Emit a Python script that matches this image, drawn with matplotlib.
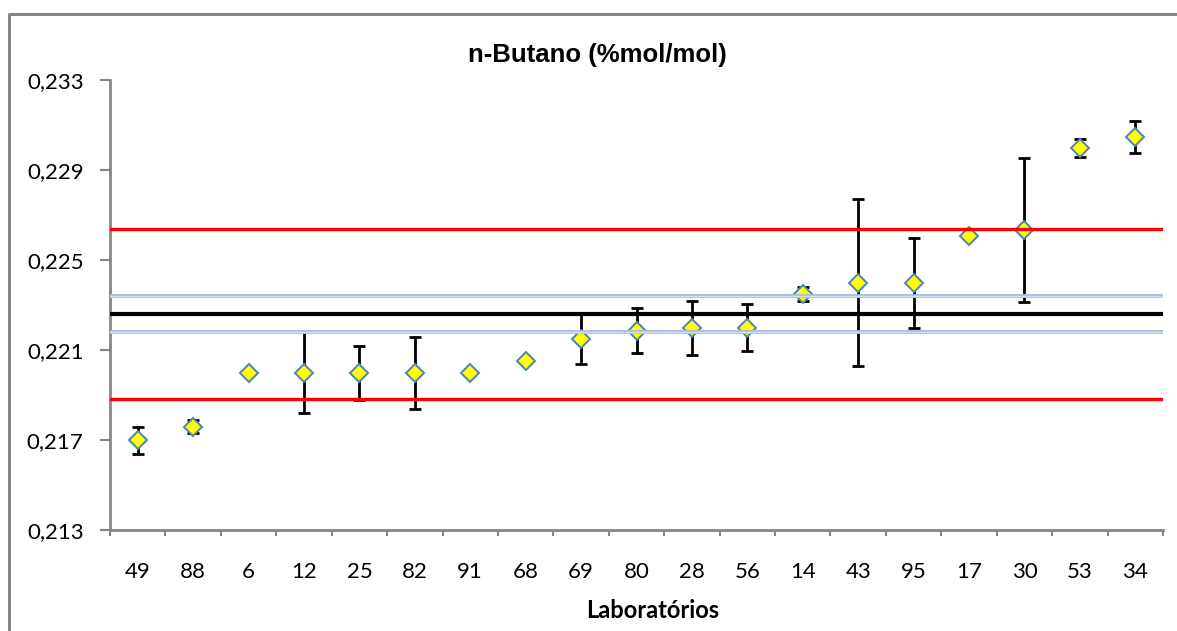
import numpy as np
import matplotlib.pyplot as plt
from matplotlib.lines import Line2D

labs = ['49', '88', '6', '12', '25', '82', '91', '68', '69', '80',
        '28', '56', '14', '43', '95', '17', '30', '53', '34']
valores = [0.2170, 0.21759, 0.2200, 0.2200, 0.2200, 0.2200, 0.2200, 0.2205, 0.2215, 0.22185,
           0.2220, 0.2220, 0.2235, 0.2240, 0.2240, 0.22607, 0.22633, 0.22996, 0.23047]
incertezas = [0.0006, 0.0003, 0.0, 0.0018, 0.0012, 0.0016, 0.0, 0.0, 0.0011, 0.0010,
              0.0012, 0.00105, 0.0003, 0.0037, 0.0020, 0.0001, 0.0032, 0.0004, 0.0007]

valor_ref = 0.2226
inc_ref = 0.0008
limite = 0.00377

fig = plt.figure(figsize=(11.77, 6.31), dpi=100)
# moldura do grafico (so topo e esquerda ficam visiveis)
fig.lines.append(Line2D([9 / 1177, 9 / 1177, 1.0], [0, 1 - 14 / 631, 1 - 14 / 631],
                        transform=fig.transFigure, color='#868686', linewidth=2.2))
ax = fig.add_axes([110 / 1177, 1 - 530 / 631, 1053 / 1177, 450 / 631])

x = np.arange(len(labs))
ax.errorbar(x, valores, yerr=incertezas, fmt='none', ecolor='black', elinewidth=2,
            capsize=4.5, capthick=2, zorder=2)
ax.plot(x, valores, linestyle='', marker='D', markersize=9, markerfacecolor='#FFFF00',
        markeredgecolor='#4F81BD', markeredgewidth=1.4, zorder=3)

ax.axhline(valor_ref + limite, color='#FF0000', linewidth=2.4, zorder=4)
ax.axhline(valor_ref - limite, color='#FF0000', linewidth=2.4, zorder=4)
ax.axhline(valor_ref + inc_ref, color='#A9BCE0', linewidth=2.8, zorder=4)
ax.axhline(valor_ref - inc_ref, color='#A9BCE0', linewidth=2.8, zorder=4)
ax.axhline(valor_ref + inc_ref, color='#D6E0F2', linewidth=1.0, zorder=4)
ax.axhline(valor_ref - inc_ref, color='#D6E0F2', linewidth=1.0, zorder=4)
ax.axhline(valor_ref, color='black', linewidth=3.0, zorder=4)

ax.set_xlim(-0.5, len(labs) - 0.5)
ax.set_ylim(0.213, 0.233)
yt = np.arange(0.213, 0.2331, 0.004)
ax.set_yticks(yt)
ax.set_yticklabels([('%.3f' % v).replace('.', ',') for v in yt], fontname='Lato', fontsize=16)
ax.set_xticks(x)
ax.set_xticklabels(labs, fontname='Lato', fontsize=16)
ax.set_xticks(np.arange(-0.5, len(labs)), minor=True)
ax.tick_params(axis='x', which='major', length=0, pad=23)
ax.tick_params(axis='x', which='minor', length=4, color='#868686', width=1.5)
ax.tick_params(axis='y', length=7, color='#868686', width=1.5, pad=12)

for s in ['top', 'right']:
    ax.spines[s].set_visible(False)
for s in ['left', 'bottom']:
    ax.spines[s].set_color('#868686')
    ax.spines[s].set_linewidth(2)

fig.text(597 / 1177, 1 - 55 / 631, 'n-Butano (%mol/mol)', ha='center', va='center',
         fontname='Liberation Sans', fontweight='bold', fontsize=18.5)
fig.text(653 / 1177, 1 - 610 / 631, 'Laboratórios', ha='center', va='center',
         fontname='Lato', fontweight='bold', fontsize=17)

fig.savefig('out.png', dpi=100)
